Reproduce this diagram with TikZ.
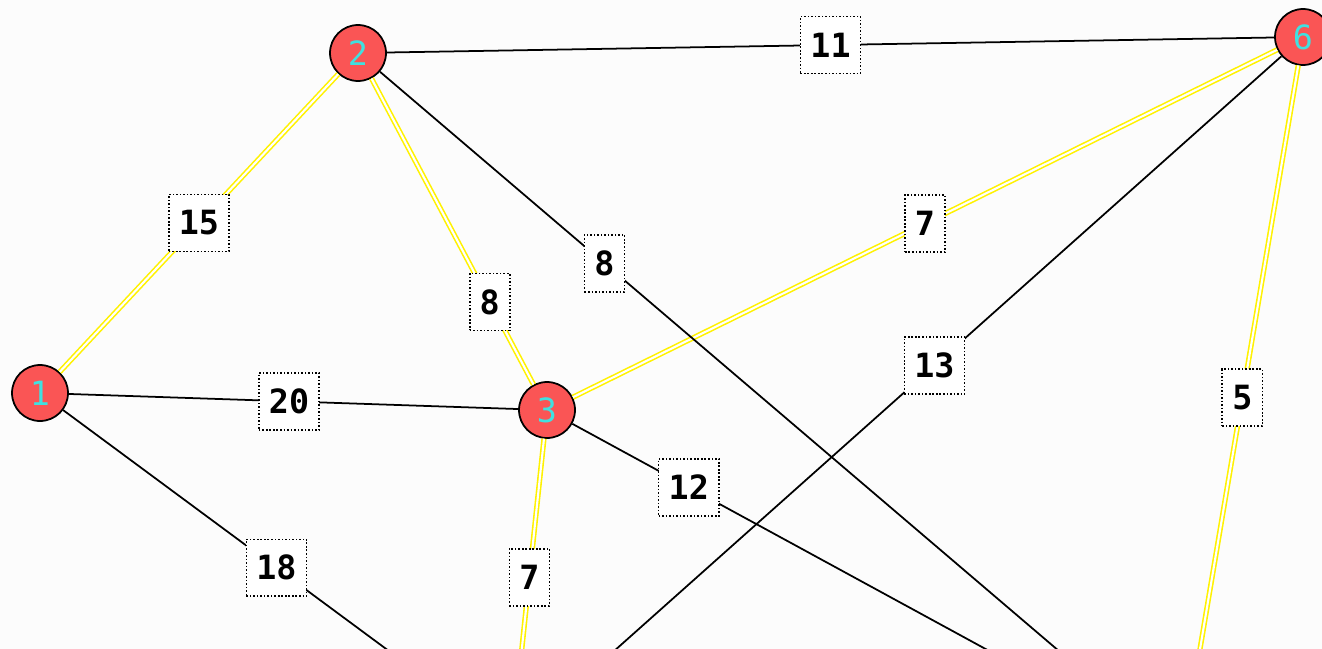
\documentclass[tikz,border=0pt]{standalone}
\usepackage{fontspec}
\setmonofont{DejaVu Sans Mono}
\usepackage{tikz}

\definecolor{vertexred}{RGB}{250,85,85}
\definecolor{vertexcyan}{RGB}{64,224,224}
\definecolor{paper}{RGB}{252,252,252}

\tikzset{
  vertex/.style={circle,draw=black,line width=1pt,fill=vertexred,minimum size=1.12cm,inner sep=0pt,
    text=vertexcyan,font=\ttfamily\fontsize{19}{19}\selectfont},
  weight/.style={draw=black,line width=0.9pt,dash pattern=on 0.9pt off 1.1pt,fill=white,
    minimum height=1.14cm,inner xsep=0.2cm,inner ysep=0pt,font=\ttfamily\bfseries\fontsize{19}{19}\selectfont},
  link/.style={draw=black,line width=1pt},
  mst/.style={draw=yellow,line width=0.9pt,double=white,double distance=1.2pt}
}

\begin{document}
\begin{tikzpicture}[x=0.02cm,y=-0.02cm]
\fill[paper] (0,0) rectangle (1322,649);
\useasboundingbox (0,0) rectangle (1322,649);
\clip (0,0) rectangle (1322,649);

% vertices (4 and 5 lie below the visible part)
\node[vertex] (n1) at (40,393) {1};
\node[vertex] (n2) at (358,53) {2};
\node[vertex] (n3) at (547,410) {3};
\node[vertex] (n6) at (1303,37) {6};
\coordinate (n4) at (512,742);
\coordinate (n5) at (1182,756);

% spanning tree edges
\draw[mst] (n1) -- (n2) node[weight,pos=0.5] {15};
\draw[mst] (n2) -- (n3) node[weight,pos=0.73] {8};
\draw[mst] (n3) -- (n6) node[weight,pos=0.5] {7};
\draw[mst] (n3) -- (n4) node[weight,pos=0.457] {7};
\draw[mst] (n6) -- (n5) node[weight,pos=0.481] {5};

% other edges
\draw[link] (n2) -- (n6) node[weight,pos=0.5] {11};
\draw[link] (n1) -- (n3) node[weight,pos=0.49] {20};
\draw[link] (n1) -- (n4) node[weight,pos=0.475] {18};
\draw[link] (n6) -- (n4) node[weight,pos=0.451] {13};
\draw[link] (n2) -- (n5) node[weight,pos=0.28] {8};
\draw[link] (n3) -- (n5) node[weight,pos=0.191] {12};
\end{tikzpicture}
\end{document}
